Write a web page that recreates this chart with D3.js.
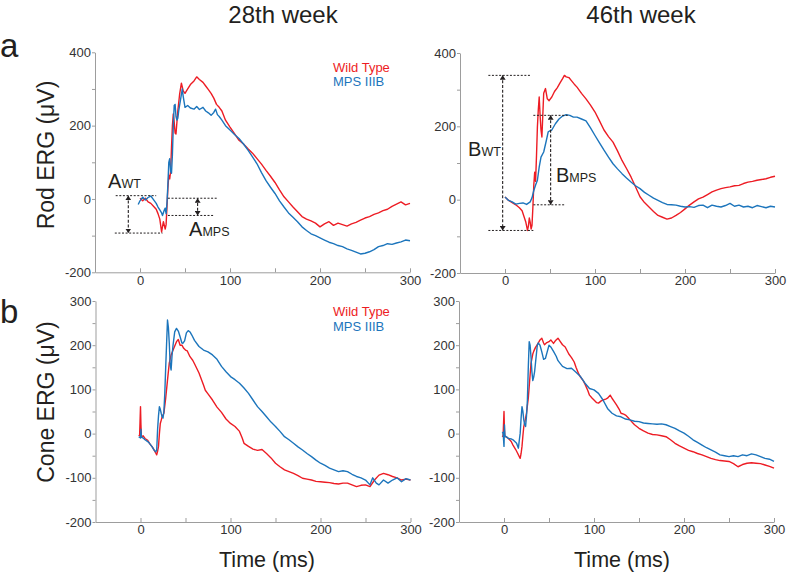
<!DOCTYPE html>
<html><head><meta charset="utf-8">
<script src="https://cdn.jsdelivr.net/npm/d3@7"></script>
<style>body{margin:0;background:#fff} svg{display:block}</style>
</head><body><svg id="c" width="787" height="575"></svg>
<script>
// ---------- DATA (time in ms, amplitude in µV) ----------
const columnTitles = ["28th week", "46th week"];
const rowLetters = ["a", "b"];
const rowLabels = ["Rod ERG (\u03bcV)", "Cone ERG (\u03bcV)"];
const seriesNames = ["Wild Type", "MPS IIIB"];
const timeTicks = [0, 50, 100, 150, 200, 250, 300];
const rodTicks = [-200, -100, 0, 100, 200, 300, 400];
const coneTicks = [-200, -150, -100, -50, 0, 50, 100, 150, 200, 250, 300];

const rod28WT = [[0,2],[3,-5],[6,2],[9,-8],[12,-12],[15,-20],[18,-28],[20,-40],[22,-55],[24,-90],[26,-62],[28,-82],[29,-70],[30,-20],[31,30],[32,65],[33,55],[34,75],[35,140],[36,200],[37,232],[38,210],[39,180],[40,177],[42,240],[44,285],[46,316],[48,295],[50,288],[53,300],[56,312],[60,322],[63,333],[66,326],[70,318],[73,308],[76,298],[79,288],[82,275],[85,258],[88,250],[91,240],[95,215],[100,196],[105,178],[110,160],[115,150],[120,137],[125,125],[130,110],[135,95],[140,78],[145,62],[150,45],[155,25],[160,6],[165,-8],[170,-22],[175,-35],[180,-48],[185,-55],[190,-60],[195,-66],[200,-76],[205,-68],[210,-62],[215,-72],[220,-66],[225,-70],[230,-74],[235,-68],[240,-64],[245,-58],[250,-52],[255,-48],[260,-42],[265,-38],[270,-32],[275,-28],[280,-20],[285,-14],[290,-8],[295,-16],[300,-12]];
const rod28MPS = [[-2,-15],[0,-5],[3,5],[6,-3],[9,4],[12,8],[15,-2],[18,-12],[20,-22],[22,-30],[24,-38],[25,-45],[27,-30],[28,-25],[29,-40],[30,-10],[31,40],[32,100],[33,110],[34,75],[35,70],[36,120],[37,200],[38,255],[39,258],[40,225],[41,215],[42,220],[43,240],[45,270],[47,300],[48,280],[50,250],[53,255],[56,248],[60,245],[63,252],[66,244],[70,250],[73,240],[76,235],[79,228],[82,236],[84,245],[86,230],[88,225],[91,215],[95,200],[100,188],[105,176],[110,165],[115,150],[120,133],[125,115],[130,96],[135,72],[140,50],[145,32],[150,15],[155,-5],[160,-22],[165,-38],[170,-50],[175,-62],[180,-76],[185,-86],[190,-95],[195,-100],[200,-106],[205,-112],[210,-118],[215,-122],[220,-127],[225,-130],[230,-136],[235,-140],[240,-145],[245,-150],[250,-148],[255,-144],[260,-138],[265,-130],[270,-127],[275,-122],[280,-124],[285,-120],[290,-117],[295,-112],[300,-114]];

const rod46WT = [[0,7],[4,-2],[8,-8],[12,-14],[16,-22],[19,-30],[21,-45],[23,-60],[25,-84],[26,-72],[27,-50],[28,-62],[29,-80],[30,-70],[31,-20],[32,40],[33,75],[34,50],[35,120],[36,198],[37,245],[38,280],[39,230],[40,190],[41,171],[42,230],[43,290],[45,303],[47,275],[49,270],[52,280],[55,295],[58,305],[61,318],[64,330],[66,339],[68,335],[71,333],[74,324],[77,315],[80,307],[85,290],[90,275],[95,258],[100,239],[105,215],[110,190],[115,172],[120,157],[125,133],[130,107],[135,85],[140,62],[145,35],[150,8],[155,-8],[160,-20],[165,-32],[170,-43],[175,-48],[180,-53],[185,-50],[190,-43],[195,-35],[200,-25],[205,-15],[210,-6],[215,2],[220,7],[225,14],[230,21],[235,26],[240,30],[245,33],[250,35],[255,38],[260,39],[265,44],[270,48],[275,50],[280,53],[285,55],[290,57],[295,61],[300,64]];
const rod46MPS = [[0,7],[4,-2],[8,-6],[12,-12],[16,-10],[20,-9],[24,-13],[28,-6],[30,5],[32,25],[34,40],[36,53],[38,89],[40,116],[43,130],[46,162],[48,185],[50,188],[52,190],[56,207],[60,220],[64,228],[68,232],[72,230],[76,225],[80,225],[85,220],[90,215],[95,196],[100,175],[105,155],[110,135],[115,116],[120,98],[125,84],[130,71],[135,59],[140,48],[145,38],[150,30],[155,20],[160,12],[165,4],[170,-2],[175,-8],[180,-13],[185,-14],[190,-15],[195,-18],[200,-20],[205,-19],[210,-21],[215,-16],[220,-15],[225,-22],[230,-15],[235,-18],[240,-20],[245,-16],[250,-10],[255,-18],[260,-15],[265,-20],[270,-18],[275,-22],[280,-16],[285,-19],[290,-22],[295,-18],[300,-20]];

const cone28WT = [[-2,-3],[-1,-5],[0,61],[0.5,20],[1,-7],[3,-5],[5,-11],[8,-15],[10,-22],[13,-30],[15,-37],[17,-44],[18,-48],[19,-40],[20,-29],[21,0],[22,23],[23,30],[24,38],[26,46],[28,80],[30,121],[32,160],[34,178],[37,193],[40,208],[42,213],[44,200],[46,200],[48,193],[50,189],[52,187],[55,174],[58,166],[60,158],[65,137],[70,110],[72,98],[75,90],[80,76],[85,60],[90,48],[95,33],[100,23],[105,16],[110,5],[113,-10],[115,-22],[120,-29],[125,-35],[130,-38],[135,-36],[140,-45],[145,-55],[150,-67],[155,-75],[160,-82],[165,-86],[170,-90],[175,-95],[180,-101],[185,-103],[190,-105],[195,-108],[200,-109],[205,-110],[210,-111],[215,-113],[220,-114],[225,-112],[230,-112],[235,-116],[240,-120],[245,-117],[250,-116],[255,-120],[260,-105],[265,-94],[270,-90],[275,-93],[280,-97],[285,-100],[290,-105],[295,-103],[300,-105]];
const cone28MPS = [[-2,-7],[0,-10],[0.5,10],[1,-8],[3,-10],[5,-14],[8,-18],[10,-22],[13,-30],[15,-37],[17,-41],[18,-38],[19,10],[20,40],[21,61],[22,55],[23,46],[24,38],[25,35],[26,50],[27,91],[28,150],[29,204],[30,257],[31,240],[32,204],[33,155],[34,144],[35,175],[36,197],[38,230],[40,238],[42,232],[44,219],[46,205],[47,204],[49,210],[51,228],[53,233],[55,230],[57,223],[60,211],[65,197],[70,189],[75,185],[80,178],[85,168],[90,152],[95,140],[100,129],[105,122],[110,114],[115,103],[120,91],[125,76],[130,61],[135,50],[140,38],[145,26],[150,16],[155,5],[160,-7],[165,-14],[170,-22],[175,-30],[180,-37],[185,-45],[190,-52],[195,-60],[200,-67],[205,-72],[210,-78],[215,-82],[220,-86],[225,-84],[230,-86],[235,-92],[240,-97],[245,-100],[250,-105],[255,-116],[258,-100],[262,-112],[265,-116],[270,-105],[275,-112],[280,-105],[285,-100],[290,-109],[295,-102],[300,-105]];

const cone46WT = [[-2,-7],[-1,-5],[0,50],[0.5,10],[1,-7],[3,-8],[5,-11],[8,-18],[10,-26],[13,-36],[15,-44],[17,-52],[18,-56],[19,-45],[20,-29],[21,-5],[22,16],[24,35],[25,46],[27,80],[28,106],[30,159],[32,180],[33,186],[35,195],[37,201],[40,212],[42,216],[44,205],[45,201],[47,205],[50,208],[52,212],[55,204],[57,210],[60,216],[62,210],[65,201],[68,196],[70,188],[72,180],[75,172],[78,162],[80,150],[83,135],[85,128],[88,120],[90,112],[93,98],[95,87],[98,80],[100,76],[103,70],[105,69],[108,74],[110,76],[113,78],[115,80],[118,87],[120,80],[122,74],[125,65],[128,55],[130,46],[133,44],[135,42],[138,36],[140,31],[145,20],[150,12],[155,6],[160,1],[165,-2],[170,-3],[175,-5],[180,-7],[185,-14],[190,-22],[195,-28],[200,-33],[205,-38],[210,-41],[215,-45],[220,-48],[225,-52],[230,-56],[235,-59],[240,-61],[245,-62],[250,-63],[255,-68],[260,-75],[265,-70],[270,-67],[275,-66],[280,-67],[285,-68],[290,-71],[295,-74],[300,-78]];
const cone46MPS = [[-2,1],[-1,3],[0,-29],[0.5,20],[1,-5],[3,-8],[5,-11],[8,-12],[10,-14],[12,-18],[14,-22],[16,-33],[17,-15],[18,1],[19,35],[20,61],[21,50],[22,31],[23,20],[24,16],[25,40],[26,76],[27,150],[28,208],[29,200],[30,174],[31,140],[32,120],[33,128],[34,140],[35,160],[37,200],[38,205],[40,200],[42,185],[44,168],[46,170],[48,185],[50,200],[52,196],[55,186],[58,175],[60,165],[65,152],[70,147],[75,148],[80,139],[85,129],[90,114],[95,102],[100,99],[105,91],[110,76],[115,57],[120,46],[125,40],[130,38],[135,33],[140,31],[145,28],[150,27],[155,24],[160,23],[165,22],[170,21],[175,22],[180,20],[185,16],[190,12],[195,6],[200,1],[205,-6],[210,-14],[215,-20],[220,-26],[225,-32],[230,-37],[235,-42],[240,-48],[245,-50],[250,-52],[255,-50],[260,-52],[265,-48],[270,-50],[275,-46],[280,-48],[285,-52],[290,-56],[295,-58],[300,-63]];

// annotation guides: [t1, t2, value] dotted levels; arrows: [t, v1, v2]
const rod28Levels = [[-27,18,9],[-28,25,-93],[31,86,2],[31,82,-45]];
const rod28Arrows = [[-13,9,-93],[64,2,-45]];
const rod28Marks = [["A","WT",-35.5,29],["A","MPS",54.5,-102]];
const rod46Levels = [[-18.5,29.5,339],[-18.5,31.5,-84],[31.5,70,230],[31.5,67,-14]];
const rod46Arrows = [[-2.6,339,-84],[50.7,230,-14]];
const rod46Marks = [["B","WT",-41,120],["B","MPS",56.7,47]];

// ---------- DRAWING ----------
const RED = "#ed1c24", BLUE = "#1c75bc", INK = "#231f20";
const FONT = "'Liberation Sans', Arial, Helvetica, sans-serif";
const svg = d3.select("#c").style("font-family", FONT);

const defs = svg.append("defs");
defs.append("marker").attr("id","arr").attr("viewBox","0 0 6 8")
  .attr("refX",6).attr("refY",4).attr("markerWidth",4.5).attr("markerHeight",6)
  .attr("markerUnits","userSpaceOnUse").attr("orient","auto-start-reverse")
  .append("path").attr("d","M0,0L6,4L0,8z").attr("fill", INK);

const panels = [
  {left:95, right:410, top:52.3, bottom:272.3, yDom:[-200,400], ticks:rodTicks, labStep:200,
   data:[rod28WT, rod28MPS], legend:[333,72,86], levels:rod28Levels, arrows:rod28Arrows, marks:rod28Marks},
  {left:460, right:775, top:53, bottom:273, yDom:[-200,400], ticks:rodTicks, labStep:200,
   data:[rod46WT, rod46MPS], legend:null, levels:rod46Levels, arrows:rod46Arrows, marks:rod46Marks},
  {left:95.5, right:410.5, top:301, bottom:522, yDom:[-200,300], ticks:coneTicks, labStep:100,
   data:[cone28WT, cone28MPS], legend:[333,316,331], levels:[], arrows:[], marks:[]},
  {left:459, right:774, top:301, bottom:522, yDom:[-200,300], ticks:coneTicks, labStep:100,
   data:[cone46WT, cone46MPS], legend:null, levels:[], arrows:[], marks:[]}
];

panels.forEach(p => {
  const x = d3.scaleLinear().domain([-50, 300]).range([p.left, p.right]);
  const y = d3.scaleLinear().domain(p.yDom).range([p.bottom, p.top]);
  const g = svg.append("g");

  const ya = d3.axisLeft(y).tickValues(p.ticks)
    .tickFormat(d => d % p.labStep === 0 ? String(d) : "")
    .tickSize(3).tickSizeOuter(0).tickPadding(1);
  const xa = d3.axisBottom(x).tickValues(timeTicks)
    .tickFormat(d => d % 100 === 0 ? String(d) : "")
    .tickSizeInner(-4).tickSizeOuter(0).tickPadding(3);
  const gy = g.append("g").attr("transform", `translate(${p.left},0)`).call(ya);
  const gx = g.append("g").attr("transform", `translate(0,${p.bottom})`).call(xa);
  [gx, gy].forEach(a => {
    a.selectAll("path, line").attr("stroke", "#9d9d9d").attr("stroke-width", 1);
    a.selectAll("text").attr("fill", "#333").style("font-size", "13px").style("font-family", FONT);
  });

  const line = d3.line().x(d => x(d[0])).y(d => y(d[1]));
  [RED, BLUE].forEach((col, i) => {
    g.append("path").datum(p.data[i]).attr("d", line)
      .attr("fill", "none").attr("stroke", col).attr("stroke-width", 1.4)
      .attr("stroke-linejoin", "round");
  });

  p.levels.forEach(l => {
    g.append("line").attr("x1", x(l[0])).attr("x2", x(l[1])).attr("y1", y(l[2])).attr("y2", y(l[2]))
      .attr("stroke", INK).attr("stroke-width", 1).attr("stroke-dasharray", "2,1.6");
  });
  p.arrows.forEach(a => {
    g.append("line").attr("x1", x(a[0])).attr("x2", x(a[0])).attr("y1", y(a[1])).attr("y2", y(a[2]))
      .attr("stroke", INK).attr("stroke-width", 1.1).attr("stroke-dasharray", "3,1.8")
      .attr("marker-start", "url(#arr)").attr("marker-end", "url(#arr)");
  });
  p.marks.forEach(m => {
    const t = g.append("text").attr("x", x(m[2])).attr("y", y(m[3])).attr("fill", INK);
    t.append("tspan").text(m[0]).style("font-size", "20px");
    t.append("tspan").text(m[1]).style("font-size", "12.5px");
  });

  if (p.legend) {
    seriesNames.forEach((n, i) => {
      g.append("text").attr("x", p.legend[0]).attr("y", p.legend[1 + i])
        .attr("fill", i === 0 ? RED : BLUE).style("font-size", "13px").text(n);
    });
  }
});

// titles
[[283, columnTitles[0]], [641, columnTitles[1]]].forEach(d => {
  svg.append("text").attr("x", d[0]).attr("y", 23).attr("text-anchor", "middle")
    .attr("fill", INK).style("font-size", "24px").text(d[1]);
});
// row letters
[[57, rowLetters[0]], [323, rowLetters[1]]].forEach(d => {
  svg.append("text").attr("x", 0).attr("y", d[0]).attr("fill", INK)
    .style("font-size", "33px").text(d[1]);
});
// y labels
[[155, rowLabels[0]], [402, rowLabels[1]]].forEach(d => {
  svg.append("text").attr("transform", `translate(54,${d[0]}) rotate(-90)`)
    .attr("text-anchor", "middle").attr("fill", INK).style("font-size", "23px").text(d[1]);
});
// x labels
[267, 622].forEach(cx => {
  svg.append("text").attr("x", cx).attr("y", 567).attr("text-anchor", "middle")
    .attr("fill", INK).style("font-size", "21.5px").text("Time (ms)");
});
</script>
</body></html>
